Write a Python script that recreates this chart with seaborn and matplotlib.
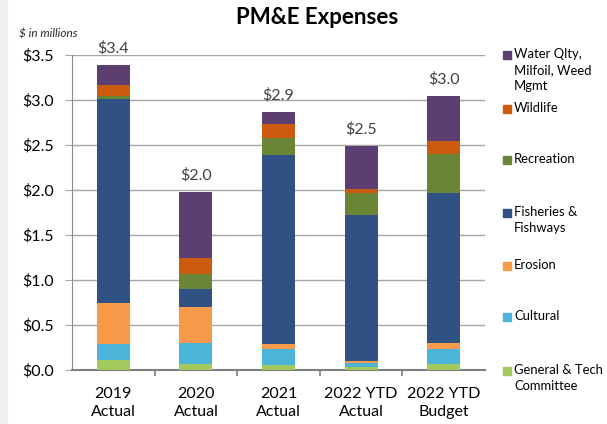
import numpy as np
import pandas as pd
import matplotlib
matplotlib.use("Agg")
import matplotlib.pyplot as plt
from matplotlib.patches import Rectangle
import seaborn as sns

# Datos ($ millones)
periodos = ["2019\nActual", "2020\nActual", "2021\nActual", "2022 YTD\nActual", "2022 YTD\nBudget"]
totales_txt = ["$3.4", "$2.0", "$2.9", "$2.5", "$3.0"]

general = [0.11, 0.07, 0.06, 0.03, 0.07]
cultural = [0.18, 0.23, 0.17, 0.05, 0.16]
erosion = [0.46, 0.40, 0.06, 0.02, 0.07]
fisheries = [2.26, 0.20, 2.10, 1.62, 1.67]
recreation = [0.03, 0.17, 0.19, 0.25, 0.43]
wildlife = [0.13, 0.18, 0.15, 0.04, 0.15]
water = [0.22, 0.73, 0.14, 0.48, 0.49]

# orden de apilado (de abajo hacia arriba)
capas = ["General & Tech\nCommittee", "Cultural", "Erosion", "Fisheries &\nFishways",
         "Recreation", "Wildlife", "Water Qlty,\nMilfoil, Weed\nMgmt"]
valores = [general, cultural, erosion, fisheries, recreation, wildlife, water]
colores = ["#a2c95c", "#4bb4d8", "#f79b4a", "#2f5184", "#6a8535", "#cc5b10", "#5b3f73"]

FUENTE = "Lato"
plt.rcParams["font.family"] = [FUENTE, "DejaVu Sans"]

df = pd.DataFrame(np.array(valores).T, columns=capas)
df.insert(0, "periodo", periodos)
acumulado = df[capas].cumsum(axis=1)

fig = plt.figure(figsize=(6.07, 4.24), dpi=100)
ax = fig.add_axes([72 / 607, 54 / 424, 413 / 607, 315 / 424])

# barras apiladas: se dibuja el acumulado de arriba hacia abajo
for capa, color in reversed(list(zip(capas, colores))):
    sns.barplot(x=df["periodo"], y=acumulado[capa], color=color, width=0.4,
                saturation=1, linewidth=0, ax=ax, zorder=3)

ax.set_ylim(0, 3.5)
ax.set_xlim(-0.5, 4.5)
ax.set_yticks(np.arange(0, 3.51, 0.5))
ax.set_yticklabels([f"${v:.1f}" for v in np.arange(0, 3.51, 0.5)], fontsize=11.5)
ax.set_xticks(range(len(periodos)))
ax.set_xticklabels(periodos, fontsize=11.5, linespacing=1.35)
ax.set_xlabel("")
ax.set_ylabel("")
ax.grid(axis="y", color="#a6a6a6", linewidth=1, zorder=0)
ax.set_axisbelow(True)

for lado in ["top", "right"]:
    ax.spines[lado].set_visible(False)
ax.spines["left"].set_color("#8c8c8c")
ax.spines["bottom"].set_color("#7f7f7f")
ax.spines["bottom"].set_linewidth(1.5)

ax.tick_params(axis="y", length=5, color="#a6a6a6", pad=8)
ax.tick_params(axis="x", length=0, pad=12)
# marcas entre categorias
ax.set_xticks(np.arange(0.5, 4.5, 1), minor=True)
ax.tick_params(axis="x", which="minor", length=4, color="#7f7f7f", width=1.2)

# etiquetas de total
for i, txt in enumerate(totales_txt):
    ax.annotate(txt, (i, acumulado.iloc[i, -1]), xytext=(0, 9), textcoords="offset points",
                ha="center", va="baseline", fontsize=11.5, color="#404040")

fig.text(317 / 607, 1 - 18 / 424, "PM&E Expenses", ha="center", va="center",
         fontsize=16, fontweight="bold")
fig.text(19 / 607, 1 - 34 / 424, "$ in millions", ha="left", va="center",
         fontsize=8.5, style="italic", color="#262626")

# franja gris a la izquierda
fig.patches.append(Rectangle((0, 0), 7 / 607, 1, transform=fig.transFigure,
                             color="#efefef", zorder=0))

# leyenda manual (de arriba hacia abajo)
y_leyenda = [55, 109, 160, 213, 266, 317, 371]
for (capa, color), y in zip(reversed(list(zip(capas, colores))), y_leyenda):
    fig.patches.append(Rectangle((503 / 607, 1 - (y + 4) / 424), 8 / 607, 8 / 424,
                                 transform=fig.transFigure, color=color))
    fig.text(514 / 607, 1 - (y - 7) / 424, capa, ha="left", va="top",
             fontsize=9.4, linespacing=1.4)

fig.savefig("out.png", dpi=100)
